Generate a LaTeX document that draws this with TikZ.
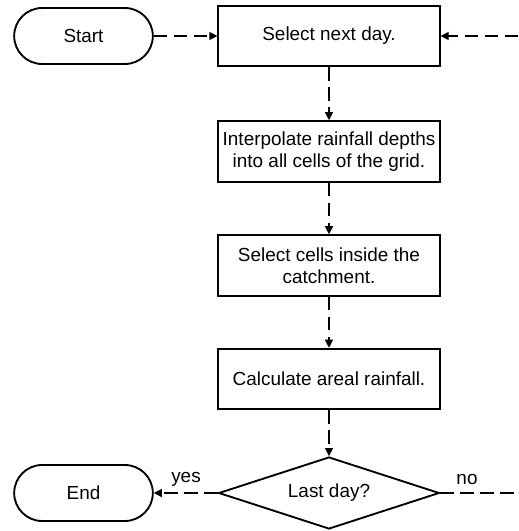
\documentclass[tikz,border=0pt]{standalone}
\usepackage{fontspec}
\setmainfont{Liberation Sans}
\usetikzlibrary{shapes.geometric,arrows.meta}
\begin{document}
\begin{tikzpicture}[x=0.75pt,y=-0.75pt,font=\fontsize{14.2}{16.6}\selectfont]
  \tikzstyle{terminal}=[draw,line width=1.4pt,rounded corners=21pt,minimum width=104pt,minimum height=42pt,inner sep=0pt]
  \tikzstyle{process}=[draw,line width=1.4pt,minimum width=166pt,minimum height=45.5pt,align=center,inner sep=0pt]
  \tikzstyle{decision}=[draw,line width=1.4pt,diamond,aspect=3,minimum width=165.5pt,minimum height=54pt,inner sep=0pt]
  \tikzstyle{flow}=[draw,line width=0.9pt,dash pattern=on 10pt off 5pt,-{Triangle[length=6pt,width=6pt]}]
  \tikzstyle{answer}=[inner sep=0pt]
  \useasboundingbox (0,0) rectangle (518,531);
  \node[terminal] (start) at (83.5,36)   {Start};
  \node[process]  (day)   at (329,36)    {Select next day.};
  \node[process]  (interp) at (329,151.5) {Interpolate rainfall depths\\into all cells of the grid.};
  \node[process]  (cells) at (329,265.5) {Select cells inside the\\catchment.};
  \node[process]  (areal) at (329,379)   {Calculate areal rainfall.};
  \node[decision] (last)  at (329,493)   {Last day?};
  \node[terminal] (end)   at (83.5,493)  {End};
  \coordinate (noout) at (518,493);
  \coordinate (backin) at (518,36);
  % connectors
  \draw[flow] (start) -- (day);
  \draw[flow] (day) -- (interp);
  \draw[flow] (interp) -- (cells);
  \draw[flow] (cells) -- (areal);
  \draw[flow] (areal) -- (last);
  \draw[flow] (last) -- (end);
  \draw[flow,-] (last.east) -- (noout);
  \draw[flow] (backin) -- (day);
  \node[answer] (yes) at (186,479) {yes};
  \node[answer] (no)  at (467,479) {no};
\end{tikzpicture}
\end{document}
